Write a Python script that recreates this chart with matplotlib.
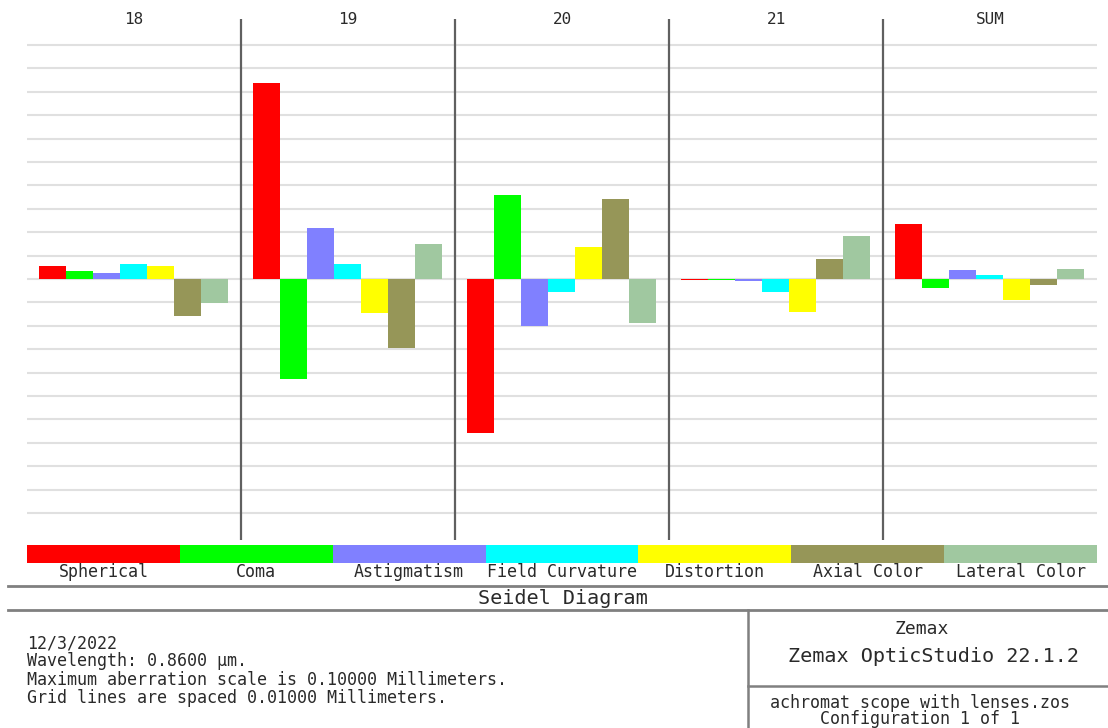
import numpy as np
import matplotlib
matplotlib.use("Agg")
import matplotlib.pyplot as plt

# ---- data (mm) ----
surfaces = ["18", "19", "20", "21", "SUM"]
aberrations = ["Spherical", "Coma", "Astigmatism", "Field Curvature",
               "Distortion", "Axial Color", "Lateral Color"]
spherical = [0.0056, 0.0836, -0.0657, -0.0003, 0.0235]
coma = [0.0036, -0.0429, 0.0359, -0.0004, -0.0037]
astigmatism = [0.0024, 0.0218, -0.0200, -0.0008, 0.0037]
field_curvature = [0.0063, 0.0063, -0.0057, -0.0057, 0.0016]
distortion = [0.0057, -0.0147, 0.0138, -0.0142, -0.0090]
axial_color = [-0.0158, -0.0296, 0.0343, 0.0084, -0.0024]
lateral_color = [-0.0104, 0.0150, -0.0189, 0.0185, 0.0043]
colors = ["#ff0000", "#00ff00", "#8080ff", "#00ffff", "#ffff00", "#969658", "#a0c8a0"]
series = [spherical, coma, astigmatism, field_curvature, distortion, axial_color, lateral_color]

max_scale = 0.1
grid_step = 0.01

footer_lines = ["12/3/2022",
                "Wavelength: 0.8600 \u00b5m.",
                "Maximum aberration scale is 0.10000 Millimeters.",
                "Grid lines are spaced 0.01000 Millimeters."]

W, H = 1108, 728
DPI = 100
FONT = "DejaVu Sans Mono"
TXT = "#2a2a2a"

fig = plt.figure(figsize=(W / DPI, H / DPI), dpi=DPI)
fig.patch.set_facecolor("white")

def fx(px):
    return px / W

def fy(py):
    return 1 - py / H

# ---- main bar axes ----
ax_left, ax_right, ax_top, ax_bot = 27, 1097, 19, 540
ax = fig.add_axes([fx(ax_left), fy(ax_bot), fx(ax_right - ax_left), (ax_bot - ax_top) / H])
zero_px = 279
px_per_mm = 23.4 / grid_step
ax.set_ylim(-(ax_bot - zero_px) / px_per_mm, (zero_px - ax_top) / px_per_mm)
ax.set_xlim(0, len(surfaces))
ax.axis("off")

for k in range(-10, 11):
    ax.axhline(k * grid_step, color="#e0e0e0", lw=1.5, zorder=1)

for i in range(1, len(surfaces)):
    ax.axvline(i, color="#606060", lw=1.6, zorder=3)

n = len(series)
bw = 0.126
off = 0.058
x0 = np.arange(len(surfaces))
for j, (vals, c) in enumerate(zip(series, colors)):
    ax.bar(x0 + off + j * bw, vals, width=bw, align="edge", color=c,
           edgecolor="none", linewidth=0, zorder=2)

for i, s in enumerate(surfaces):
    ax.text(i + 0.5, 1.0, s, transform=ax.get_xaxis_transform(), ha="center",
            va="center", fontsize=11.5, family=FONT, color=TXT)

# ---- legend colour bar ----
lg = fig.add_axes([fx(27), fy(563), fx(1070), 18 / H])
lg.set_xlim(0, n)
lg.set_ylim(0, 1)
lg.axis("off")
for j, c in enumerate(colors):
    lg.barh(0.5, 1, left=j, height=1, color=c, edgecolor="none")
for j, name in enumerate(aberrations):
    fig.text(fx(27 + 1070 / n * (j + 0.5)), fy(572), name, ha="center", va="center",
             fontsize=12, family=FONT, color=TXT)

# ---- frame lines ----
line_col = "#808080"
fig.add_artist(plt.Line2D([fx(8), 1], [fy(586), fy(586)], color=line_col, lw=2.0))
fig.add_artist(plt.Line2D([fx(8), 1], [fy(610), fy(610)], color=line_col, lw=2.0))
fig.add_artist(plt.Line2D([fx(748), fx(748)], [fy(610), 0], color=line_col, lw=1.8))
fig.add_artist(plt.Line2D([fx(748), 1], [fy(686), fy(686)], color=line_col, lw=1.8))

fig.text(fx(563), fy(599), "Seidel Diagram", ha="center", va="center",
         fontsize=14.5, family=FONT, color=TXT)

for k, t in enumerate(footer_lines):
    fig.text(fx(27), fy(643 + k * 18.3), t, ha="left", va="center",
             fontsize=12, family=FONT, color=TXT)

fig.text(fx(922), fy(629), "Zemax", ha="center", va="center",
         fontsize=13, family=FONT, color=TXT)
fig.text(fx(933), fy(656), "Zemax OpticStudio 22.1.2", ha="center", va="center",
         fontsize=14.5, family=FONT, color=TXT)
fig.text(fx(920), fy(703), "achromat scope with lenses.zos", ha="center", va="center",
         fontsize=12, family=FONT, color=TXT)
fig.text(fx(920), fy(719), "Configuration 1 of 1", ha="center", va="center",
         fontsize=12, family=FONT, color=TXT)

fig.savefig("out.png", dpi=DPI, facecolor="white")
